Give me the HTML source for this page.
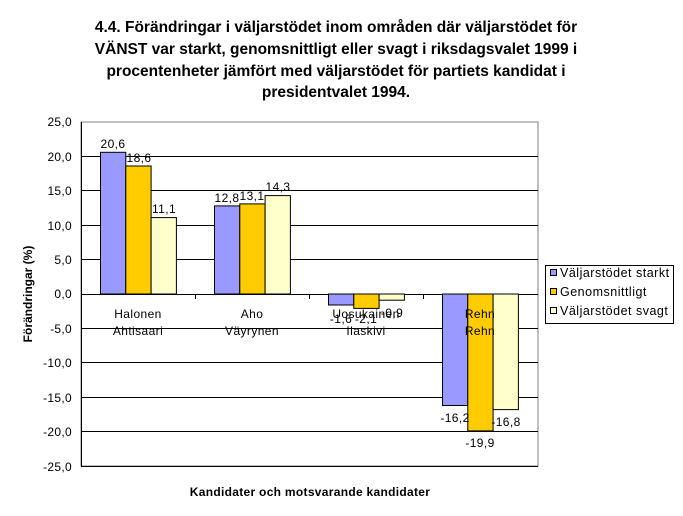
<!DOCTYPE html>
<html><head><meta charset="utf-8"><style>body{margin:0;background:#fff}svg{display:block}text{font-family:"Liberation Sans",sans-serif}</style></head><body>
<svg width="683" height="516" xmlns="http://www.w3.org/2000/svg">
<g font-size="15.5" font-weight="bold" text-anchor="middle">
<text x="336" y="32">4.4. Förändringar i väljarstödet inom områden där väljarstödet för</text>
<text x="336" y="54">VÄNST var starkt, genomsnittligt eller svagt i riksdagsvalet 1999 i</text>
<text x="336" y="76">procentenheter jämfört med väljarstödet för partiets kandidat i</text>
<text x="336" y="97">presidentvalet 1994.</text>
</g>
<rect x="81" y="122" width="457" height="344" fill="#fff" stroke="#808080"/>
<g stroke="#000" stroke-width="1">
<line x1="81" x2="538" y1="156.5" y2="156.5"/><line x1="81" x2="538" y1="190.5" y2="190.5"/><line x1="81" x2="538" y1="225.5" y2="225.5"/><line x1="81" x2="538" y1="259.5" y2="259.5"/><line x1="81" x2="538" y1="294.5" y2="294.5"/><line x1="81" x2="538" y1="328.5" y2="328.5"/><line x1="81" x2="538" y1="362.5" y2="362.5"/><line x1="81" x2="538" y1="397.5" y2="397.5"/><line x1="81" x2="538" y1="431.5" y2="431.5"/><line x1="81" x2="538" y1="466.5" y2="466.5"/>
<line x1="81.5" x2="81.5" y1="122" y2="466"/>
</g>
<g font-size="12" text-anchor="end" letter-spacing="0.3">
<text x="72" y="126">25,0</text><text x="72" y="161">20,0</text><text x="72" y="195">15,0</text><text x="72" y="230">10,0</text><text x="72" y="264">5,0</text><text x="72" y="298">0,0</text><text x="72" y="333">-5,0</text><text x="72" y="367">-10,0</text><text x="72" y="402">-15,0</text><text x="72" y="436">-20,0</text><text x="72" y="471">-25,0</text>
</g>
<g stroke="#000">
<rect x="100.5" y="152.3" width="25.3" height="141.7" fill="#9999ff"/>
<rect x="125.8" y="166" width="25.3" height="128" fill="#ffcc00"/>
<rect x="151.1" y="217.6" width="25.3" height="76.4" fill="#ffffcc"/>
<rect x="214.5" y="205.9" width="25.3" height="88.1" fill="#9999ff"/>
<rect x="239.8" y="203.9" width="25.3" height="90.1" fill="#ffcc00"/>
<rect x="265.1" y="195.6" width="25.3" height="98.4" fill="#ffffcc"/>
<rect x="328.5" y="294" width="25.3" height="11" fill="#9999ff"/>
<rect x="353.8" y="294" width="25.3" height="14.4" fill="#ffcc00"/>
<rect x="379.1" y="294" width="25.3" height="6.2" fill="#ffffcc"/>
<rect x="442.5" y="294" width="25.3" height="111.5" fill="#9999ff"/>
<rect x="467.8" y="294" width="25.3" height="136.9" fill="#ffcc00"/>
<rect x="493.1" y="294" width="25.3" height="115.6" fill="#ffffcc"/>
</g>
<g stroke="#000"><line x1="195.5" x2="195.5" y1="294" y2="299"/><line x1="309.5" x2="309.5" y1="294" y2="299"/><line x1="423.5" x2="423.5" y1="294" y2="299"/></g>
<g font-size="12" text-anchor="middle" letter-spacing="0.4">
<text x="113" y="148">20,6</text><text x="139" y="162">18,6</text><text x="164" y="213">11,1</text>
<text x="227" y="202">12,8</text><text x="252" y="200">13,1</text><text x="278" y="191">14,3</text>
<text x="341" y="323">-1,6</text><text x="366" y="323">-2,1</text><text x="392" y="317">-0,9</text>
<text x="455" y="422">-16,2</text><text x="480" y="447">-19,9</text><text x="506" y="426">-16,8</text>
<text x="138" y="318">Halonen</text><text x="138" y="335">Ahtisaari</text>
<text x="252" y="318">Aho</text><text x="252" y="335">Väyrynen</text>
<text x="366" y="318">Uosukainen</text><text x="366" y="335">Ilaskivi</text>
<text x="480" y="318">Rehn</text><text x="480" y="335">Rehn</text>
</g>
<text x="0" y="0" font-size="12" font-weight="bold" text-anchor="middle" transform="translate(32,294) rotate(-90)">Förändringar (%)</text>
<text x="310" y="496" font-size="12" font-weight="bold" text-anchor="middle" letter-spacing="0.3">Kandidater och motsvarande kandidater</text>
<rect x="545.5" y="265.5" width="128" height="58" fill="#fff" stroke="#000"/>
<g stroke="#000"><rect x="550.5" y="269.5" width="6" height="6" fill="#9999ff"/><rect x="550.5" y="288.5" width="6" height="6" fill="#ffcc00"/><rect x="550.5" y="307.5" width="6" height="6" fill="#ffffcc"/></g>
<g font-size="12.5" letter-spacing="0.5"><text x="560" y="277">Väljarstödet starkt</text><text x="560" y="296">Genomsnittligt</text><text x="560" y="315">Väljarstödet svagt</text></g>
</svg>
</body></html>
